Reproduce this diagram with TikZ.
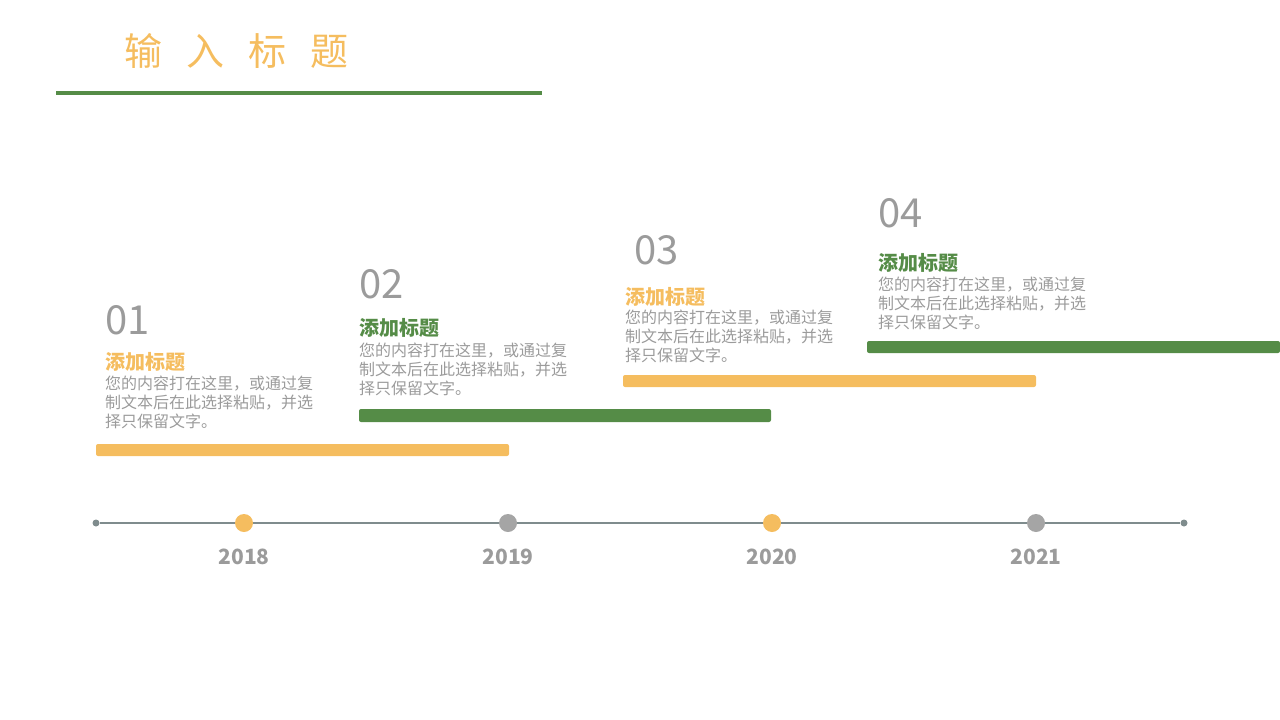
\documentclass[tikz,border=0pt]{standalone}
\usepackage{fontspec}
\setmainfont{Noto Sans CJK SC}
\definecolor{ochre}{HTML}{F5BD5F}
\definecolor{leaf}{HTML}{558C47}
\definecolor{ash}{HTML}{9B9B9B}
\definecolor{slate}{HTML}{7F8C8D}
\definecolor{pebble}{HTML}{A5A5A5}

\begin{document}
\begin{tikzpicture}[x=1pt, y=-1pt,
	num/.style={anchor=west, inner sep=0, text=ash, font=\fontsize{40}{40}\selectfont},
	head/.style={anchor=west, inner sep=0, font=\bfseries\fontsize{20}{20}\selectfont},
	body/.style={anchor=west, inner sep=0, align=left, text=ash, font=\fontsize{16}{19}\selectfont},
	bar/.style={rounded corners=2pt},
	dot/.style={circle, inner sep=0, minimum size=18pt},
	tip/.style={circle, fill=slate, inner sep=0, minimum size=7pt},
	year/.style={text=ash, inner sep=0, font=\bfseries\fontsize{21}{21}\selectfont}]
		%%%%% START %%%%%
		\useasboundingbox (0, 0) rectangle (1280, 720);
		
		\node[anchor=west, inner sep=0, text=ochre, font=\fontsize{38}{38}\selectfont] (title) at (124, 51) {输\hspace{24pt}入\hspace{24pt}标\hspace{24pt}题};
		\fill[leaf] (56, 91) rectangle (542, 95);
		
		\fill[ochre, bar] (96, 444) rectangle (509, 456);
		\fill[leaf, bar] (359, 409) rectangle (771, 422);
		\fill[ochre, bar] (623, 375) rectangle (1036, 387);
		\fill[leaf, bar] (867, 341) rectangle (1280, 353);
		
		\foreach \i/\x/\nx/\ny/\hy/\by/\c in {1/105/105/320/362/402/ochre, 2/359/359/284/328/369/leaf, 3/625/634/250/297/336/ochre, 4/878/878/213/263/303/leaf}{
			\node[num] (num\i) at (\nx, \ny) {0\i};
			\node[head, text=\c] (head\i) at (\x, \hy) {添加标题};
			\node[body] (body\i) at (\x, \by) {您的内容打在这里，或通过复\\制文本后在此选择粘贴，并选\\择只保留文字。};
		}
		
		\node[tip] (t0) at (96, 523) {};
		\node[tip] (t5) at (1184, 523) {};
		\draw[slate, line width=1.2pt] (t0) -- (t5);
		
		\foreach \i/\x/\c/\yr in {1/244/ochre/2018, 2/508/pebble/2019, 3/772/ochre/2020, 4/1036/pebble/2021}{
			\node[dot, fill=\c] (d\i) at (\x, 523) {};
			\node[year] (yr\i) at (\x, 557) {\yr};
		}
		%%%%% END %%%%%
	\end{tikzpicture}
\end{document}
